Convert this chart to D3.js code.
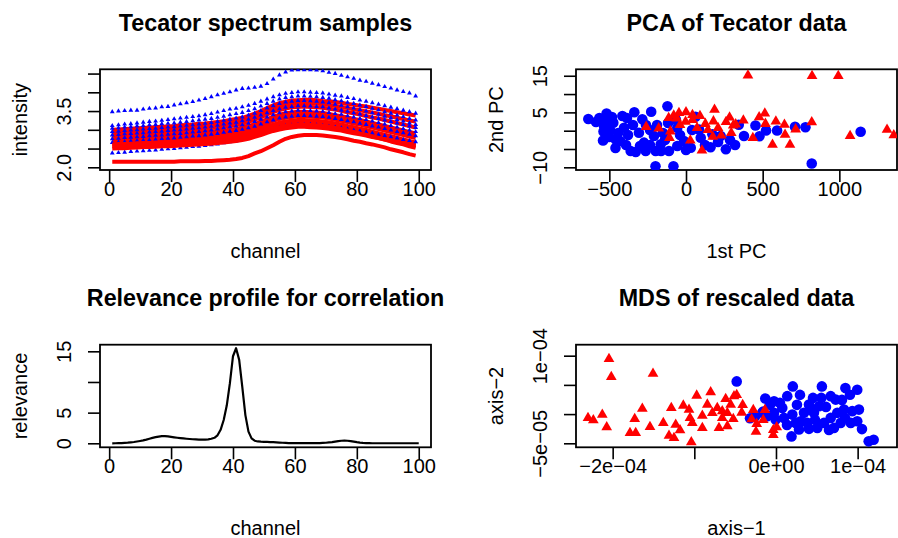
<!DOCTYPE html>
<html><head><meta charset="utf-8">
<script src="https://cdnjs.cloudflare.com/ajax/libs/d3/7.8.5/d3.min.js"></script>
<style>
body{margin:0;background:#fff}
svg{display:block}
text{font-family:"Liberation Sans",Arial,Helvetica,sans-serif;fill:#000}
</style>
</head><body>
<svg id="c" width="898" height="538"></svg>
<script>
// ---------------- DATA ----------------
// Panel 1: spectra sampled at odd channels
const spectrumChannels = d3.range(1, 100, 2);
const spectraRed = [
 [3.00,3.01,3.02,3.03,3.04,3.05,3.06,3.07,3.08,3.09,3.10,3.12,3.13,3.14,3.16,3.17,3.19,3.21,3.23,3.26,3.29,3.32,3.37,3.43,3.50,3.58,3.65,3.71,3.75,3.78,3.79,3.80,3.80,3.79,3.77,3.76,3.74,3.72,3.69,3.67,3.64,3.62,3.59,3.56,3.53,3.50,3.47,3.44,3.41,3.38],
 [2.95,2.96,2.97,2.98,2.99,3.00,3.01,3.01,3.02,3.03,3.04,3.05,3.07,3.08,3.09,3.10,3.12,3.14,3.16,3.18,3.21,3.24,3.29,3.35,3.42,3.49,3.56,3.62,3.66,3.69,3.70,3.71,3.71,3.70,3.68,3.66,3.64,3.61,3.58,3.55,3.52,3.49,3.46,3.43,3.39,3.36,3.32,3.29,3.25,3.22],
 [2.90,2.91,2.92,2.92,2.93,2.94,2.95,2.96,2.96,2.97,2.98,2.99,3.00,3.01,3.02,3.03,3.05,3.06,3.08,3.10,3.13,3.16,3.21,3.27,3.33,3.41,3.47,3.53,3.57,3.60,3.61,3.62,3.61,3.60,3.59,3.56,3.54,3.51,3.47,3.44,3.41,3.37,3.33,3.30,3.26,3.22,3.18,3.14,3.10,3.06],
 [2.82,2.83,2.83,2.84,2.85,2.86,2.86,2.87,2.88,2.88,2.89,2.90,2.91,2.92,2.93,2.94,2.95,2.97,2.98,3.00,3.02,3.06,3.10,3.15,3.22,3.28,3.35,3.40,3.44,3.46,3.48,3.48,3.47,3.46,3.45,3.42,3.39,3.36,3.33,3.29,3.26,3.22,3.18,3.14,3.10,3.06,3.02,2.98,2.94,2.90],
 [2.78,2.79,2.79,2.80,2.81,2.82,2.82,2.83,2.84,2.84,2.85,2.86,2.87,2.88,2.89,2.90,2.91,2.93,2.94,2.96,2.98,3.02,3.06,3.11,3.17,3.23,3.29,3.34,3.38,3.40,3.42,3.42,3.41,3.40,3.39,3.36,3.33,3.30,3.27,3.23,3.20,3.16,3.12,3.08,3.04,3.00,2.96,2.92,2.88,2.84],
 [2.74,2.75,2.75,2.76,2.77,2.78,2.78,2.79,2.80,2.80,2.81,2.82,2.83,2.84,2.85,2.86,2.87,2.89,2.90,2.92,2.94,2.97,3.01,3.06,3.12,3.18,3.24,3.29,3.32,3.34,3.36,3.36,3.35,3.34,3.33,3.30,3.27,3.24,3.21,3.17,3.14,3.10,3.06,3.02,2.98,2.94,2.90,2.86,2.82,2.78],
 [2.66,2.67,2.67,2.68,2.69,2.70,2.70,2.71,2.72,2.72,2.73,2.74,2.75,2.76,2.77,2.78,2.79,2.81,2.82,2.84,2.86,2.89,2.93,2.97,3.03,3.09,3.14,3.19,3.22,3.24,3.26,3.26,3.25,3.24,3.22,3.20,3.17,3.14,3.10,3.07,3.03,3.00,2.95,2.91,2.87,2.83,2.79,2.74,2.70,2.66],
 [2.61,2.62,2.62,2.63,2.64,2.65,2.65,2.66,2.67,2.67,2.68,2.69,2.70,2.71,2.72,2.73,2.74,2.76,2.77,2.79,2.81,2.84,2.88,2.92,2.97,3.03,3.09,3.13,3.16,3.18,3.20,3.20,3.19,3.18,3.16,3.14,3.11,3.08,3.04,3.00,2.97,2.93,2.89,2.85,2.80,2.76,2.72,2.68,2.63,2.59],
 [2.56,2.57,2.57,2.58,2.59,2.60,2.60,2.61,2.62,2.62,2.63,2.64,2.65,2.66,2.67,2.68,2.69,2.71,2.72,2.74,2.76,2.79,2.82,2.87,2.92,2.98,3.03,3.07,3.10,3.12,3.14,3.14,3.13,3.12,3.10,3.08,3.05,3.02,2.98,2.94,2.90,2.87,2.82,2.78,2.74,2.69,2.65,2.61,2.56,2.52],
 [2.50,2.51,2.51,2.52,2.53,2.54,2.54,2.55,2.56,2.56,2.57,2.58,2.59,2.60,2.61,2.62,2.63,2.65,2.66,2.68,2.70,2.73,2.76,2.81,2.86,2.92,2.97,3.01,3.04,3.06,3.08,3.08,3.07,3.06,3.05,3.03,3.00,2.98,2.94,2.91,2.88,2.85,2.81,2.78,2.74,2.71,2.67,2.63,2.60,2.56],
 [2.15,2.15,2.15,2.15,2.15,2.15,2.15,2.15,2.15,2.15,2.15,2.16,2.16,2.16,2.16,2.17,2.17,2.18,2.19,2.20,2.22,2.25,2.30,2.37,2.43,2.51,2.59,2.68,2.76,2.81,2.84,2.86,2.86,2.86,2.85,2.83,2.81,2.78,2.75,2.71,2.68,2.64,2.61,2.57,2.53,2.48,2.44,2.40,2.35,2.31]
];
const spectraBlue = [
 [3.48,3.50,3.51,3.52,3.52,3.55,3.57,3.58,3.61,3.62,3.66,3.69,3.72,3.75,3.79,3.83,3.88,3.93,3.97,4.01,4.06,4.10,4.11,4.13,4.16,4.23,4.35,4.46,4.54,4.59,4.60,4.60,4.60,4.59,4.57,4.53,4.50,4.45,4.41,4.37,4.32,4.29,4.24,4.20,4.15,4.11,4.06,4.02,3.98,3.90],
 [3.11,3.13,3.15,3.16,3.18,3.20,3.22,3.23,3.25,3.27,3.29,3.31,3.33,3.35,3.37,3.40,3.43,3.47,3.51,3.55,3.57,3.61,3.65,3.70,3.76,3.82,3.88,3.93,3.97,3.99,4.01,4.01,4.00,3.99,3.98,3.95,3.92,3.90,3.86,3.83,3.79,3.76,3.72,3.68,3.64,3.60,3.56,3.52,3.48,3.44],
 [3.04,3.05,3.07,3.08,3.10,3.11,3.13,3.14,3.16,3.17,3.18,3.20,3.22,3.24,3.26,3.28,3.30,3.33,3.36,3.40,3.43,3.46,3.51,3.56,3.63,3.70,3.76,3.82,3.86,3.88,3.90,3.90,3.89,3.88,3.86,3.84,3.80,3.77,3.73,3.70,3.66,3.62,3.57,3.53,3.48,3.44,3.39,3.35,3.30,3.26],
 [2.95,2.96,2.98,2.99,3.00,3.02,3.03,3.04,3.06,3.07,3.08,3.10,3.12,3.13,3.15,3.17,3.19,3.22,3.25,3.28,3.31,3.34,3.39,3.44,3.51,3.58,3.64,3.70,3.74,3.76,3.78,3.78,3.77,3.76,3.74,3.72,3.68,3.65,3.61,3.58,3.54,3.50,3.45,3.41,3.36,3.32,3.27,3.23,3.18,3.14],
 [2.86,2.87,2.89,2.90,2.91,2.92,2.94,2.95,2.96,2.98,2.99,3.00,3.02,3.04,3.05,3.07,3.09,3.12,3.15,3.18,3.20,3.24,3.28,3.33,3.39,3.45,3.51,3.56,3.60,3.62,3.64,3.64,3.63,3.62,3.61,3.58,3.55,3.52,3.49,3.45,3.42,3.38,3.34,3.30,3.26,3.22,3.18,3.14,3.10,3.06],
 [2.76,2.77,2.79,2.80,2.81,2.82,2.84,2.85,2.86,2.88,2.89,2.90,2.92,2.94,2.95,2.97,2.99,3.02,3.05,3.08,3.10,3.13,3.17,3.22,3.28,3.34,3.40,3.45,3.48,3.50,3.52,3.52,3.51,3.50,3.49,3.46,3.43,3.41,3.37,3.34,3.30,3.27,3.23,3.19,3.15,3.11,3.07,3.03,2.99,2.95],
 [2.66,2.67,2.68,2.70,2.71,2.72,2.73,2.74,2.76,2.77,2.78,2.80,2.81,2.83,2.84,2.86,2.88,2.90,2.93,2.96,2.98,3.01,3.05,3.09,3.15,3.21,3.26,3.31,3.34,3.36,3.38,3.38,3.37,3.36,3.35,3.33,3.30,3.27,3.24,3.21,3.17,3.14,3.10,3.07,3.03,2.99,2.95,2.92,2.88,2.84],
 [2.38,2.39,2.40,2.42,2.43,2.44,2.45,2.46,2.48,2.49,2.50,2.52,2.53,2.55,2.56,2.58,2.60,2.62,2.65,2.68,2.70,2.74,2.78,2.83,2.89,2.95,3.01,3.06,3.10,3.12,3.14,3.14,3.14,3.13,3.11,3.09,3.07,3.05,3.02,2.99,2.97,2.94,2.91,2.87,2.84,2.81,2.78,2.74,2.71,2.68]
];
const spectrumXTicks = [0,20,40,60,80,100];
const spectrumXLabels = ["0","20","40","60","80","100"];
const spectrumYTicks = [2.0,2.5,3.0,3.5,4.0,4.5];
const spectrumYLabels = ["2.0","","","3.5","",""];

// Panel 2: PCA scores
const pcaBlueX = [-637,-565,-518,-535,-538,-541,-474,-458,-460,-415,-404,-337,-361,-328,-285,-227,-121,-307,-274,-263,-198,-209,-165,-111,-57,-57,-67,-13,31,62,85,96,160,260,172,226,-199,-82,344,378,453,479,522,594,711,779,820,1139,-496,-443,-378,-346,-261,-235,-189,-150,-137,-39,0,39,124,209,287,320,-391,-300,-235,-163,-587,-483,-385,-430,-117,-515,-502];
const pcaBlueY = [3.19,3.47,4.69,1.28,-0.22,-2.67,2.18,-2.40,-4.72,4.01,0.82,5.05,-5.54,-5.81,3.11,5.16,6.66,-0.55,-3.27,-5.54,-5.54,-1.45,-3.71,-5.54,-4.18,0.82,3.11,-2.81,-4.64,3.82,0.33,-1.91,-4.50,-5.08,-0.98,-1.45,-9.72,-9.72,1.64,-1.45,1.42,-1.53,0.05,0.05,1.06,0.96,-8.95,-0.30,0.19,-0.63,-1.17,1.56,1.56,0.19,1.56,-0.63,-2.54,-1.17,-5.27,0.19,-3.90,-3.08,-2.54,-3.90,-3.90,-4.18,-3.90,-5.54,2.37,3.74,3.47,-2.81,2.10,2.92,-1.72];
const pcaRedX = [404,822,993,-260,-178,-113,-102,-108,-80,-61,-3,0,42,42,28,104,126,179,186,175,230,284,295,308,374,436,477,514,518,564,586,642,646,678,820,1070,1311,1355,324,715,-39,72,143,261,-46,91,209];
const pcaRedY = [15.10,14.95,14.95,1.06,0.65,3.47,-0.16,-1.94,4.15,3.38,2.46,5.05,4.28,2.92,-2.67,-5.40,1.88,2.57,5.73,-1.64,-1.31,3.60,-0.63,1.42,2.78,-1.99,3.68,4.69,1.88,-3.82,2.54,1.64,-1.09,-3.82,2.32,-1.45,0.27,-1.23,1.75,0.38,1.56,0.74,0.19,2.37,4.83,4.01,0.74];
const pcaXTicks = [-500,0,500,1000];
const pcaXLabels = ["\u2212500","0","500","1000"];
const pcaYTicks = [-10,-5,0,5,10,15];
const pcaYLabels = ["\u221210","","","5","","15"];

// Panel 3: relevance profile (channels 1..100)
const relevanceChannels = d3.range(1, 101);
const relevance = [
 0.00,0.01,0.02,0.04,0.07,0.10,0.15,0.21,0.29,0.38,
 0.48,0.60,0.74,0.88,1.00,1.10,1.16,1.17,1.13,1.06,
 0.98,0.91,0.85,0.79,0.74,0.70,0.66,0.63,0.61,0.60,
 0.61,0.65,0.74,0.90,1.30,2.20,3.80,6.20,9.80,14.2,
 15.5,13.6,9.2,4.6,1.9,0.80,0.42,0.30,0.26,0.24,
 0.22,0.20,0.18,0.15,0.12,0.09,0.06,0.04,0.03,0.02,
 0.02,0.02,0.02,0.02,0.02,0.02,0.03,0.04,0.06,0.09,
 0.14,0.20,0.28,0.36,0.42,0.44,0.42,0.36,0.27,0.18,
 0.11,0.06,0.03,0.02,0.01,0.01,0.01,0.01,0.01,0.01,
 0.01,0.01,0.01,0.01,0.01,0.01,0.01,0.01,0.01,0.01];
const relYTicks = [0,5,10,15];
const relYLabels = ["0","5","","15"];

// Panel 4: MDS of rescaled data
const mdsRedX = [-20.45e-5,-20.17e-5,-15.06e-5,-23.02e-5,-22.37e-5,-21.27e-5,-20.73e-5,-17.30e-5,-16.37e-5,-17.88e-5,-17.18e-5,-15.43e-5,-13.80e-5,-12.82e-5,-12.28e-5,-13.10e-5,-12.49e-5,-11.75e-5,-11.35e-5,-10.65e-5,-10.53e-5,-10.25e-5,-10.37e-5,-9.71e-5,-9.02e-5,-9.02e-5,-8.41e-5,-8.00e-5,-7.80e-5,-7.19e-5,-6.58e-5,-6.16e-5,-5.96e-5,-5.55e-5,-5.14e-5,-6.98e-5,-5.96e-5,-6.58e-5,-5.23e-5,-4.81e-5,-4.08e-5,-4.20e-5,-2.78e-5,-2.98e-5,-2.36e-5,-2.45e-5,-1.35e-5,-1.56e-5,-0.33e-5,0.09e-5,-0.33e-5];
const mdsRedY = [9.43e-5,6.35e-5,6.92e-5,-0.65e-5,-1.04e-5,-0.09e-5,-2.24e-5,-0.82e-5,0.94e-5,-3.22e-5,-3.22e-5,-2.19e-5,-1.51e-5,1.06e-5,-1.80e-5,-3.68e-5,-4.08e-5,-2.76e-5,1.46e-5,0.77e-5,-0.65e-5,-1.51e-5,-4.81e-5,3.17e-5,-0.26e-5,-2.36e-5,1.63e-5,3.75e-5,0.21e-5,1.06e-5,0.50e-5,2.60e-5,0.21e-5,1.63e-5,3.07e-5,-2.36e-5,-2.07e-5,-0.65e-5,-0.82e-5,3.29e-5,1.58e-5,0.26e-5,0.72e-5,-0.87e-5,-1.68e-5,-3.00e-5,0.72e-5,-0.99e-5,-2.71e-5,-2.24e-5,-3.56e-5];
const mdsBlueX = [-4.81e-5,-1.31e-5,-0.24e-5,2.06e-5,1.38e-5,0.77e-5,-0.24e-5,-1.07e-5,-1.68e-5,-0.04e-5,0.98e-5,2.00e-5,2.41e-5,3.02e-5,3.43e-5,4.04e-5,4.65e-5,5.62e-5,5.55e-5,5.27e-5,6.70e-5,7.31e-5,8.50e-5,9.06e-5,9.95e-5,10.16e-5,9.34e-5,8.33e-5,7.51e-5,6.70e-5,5.88e-5,5.06e-5,4.04e-5,2.82e-5,1.90e-5,3.83e-5,7.10e-5,7.92e-5,9.15e-5,10.53e-5,9.95e-5,11.35e-5,11.96e-5,4.25e-5,-2.57e-5,-3.18e-5,-1.56e-5,0.49e-5,2.57e-5,6.12e-5,8.08e-5,4.78e-5,1.35e-5,8.45e-5,6.49e-5,-0.73e-5,2.94e-5,4.53e-5];
const mdsBlueY = [5.60e-5,2.65e-5,2.21e-5,4.74e-5,3.07e-5,1.06e-5,0.21e-5,-0.36e-5,0.21e-5,-0.94e-5,-0.65e-5,-0.09e-5,-1.51e-5,-1.22e-5,0.21e-5,1.63e-5,0.21e-5,4.74e-5,2.77e-5,1.35e-5,3.07e-5,2.48e-5,4.45e-5,3.32e-5,4.18e-5,0.77e-5,0.50e-5,0.77e-5,0.21e-5,-0.65e-5,-1.51e-5,-2.36e-5,-2.53e-5,-2.65e-5,-3.82e-5,-1.51e-5,-2.36e-5,-1.51e-5,-1.51e-5,-2.57e-5,-1.22e-5,-4.67e-5,-4.38e-5,0.77e-5,-0.43e-5,-0.70e-5,0.43e-5,1.92e-5,1.58e-5,1.23e-5,2.43e-5,-0.99e-5,-1.85e-5,-0.65e-5,-2.71e-5,1.58e-5,3.29e-5,2.77e-5];
const mdsXTicks = [-2e-4,-1e-4,0,1e-4];
const mdsXLabels = ["\u22122e\u221204","","0e+00","1e\u221204"];
const mdsYTicks = [-5e-5,0,5e-5,1e-4];
const mdsYLabels = ["\u22125e\u221205","","","1e\u221204"];

// ---------------- LAYOUT ----------------
const RED = "#ff0000", BLUE = "#0000ff";
const TICK = 12, LAB = 20, TITLE = 23.3;
const FAM = '"Liberation Sans",Arial,Helvetica,sans-serif';
const svg = d3.select("#c");
const P = {
  spec: {x0:100, x1:431, y0:69.3, y1:170},
  pca:  {x0:576, x1:897, y0:69.3, y1:170},
  rel:  {x0:100, x1:431, y0:344.7, y1:447.3},
  mds:  {x0:576, x1:897, y0:344.7, y1:447.3}
};

function frame(key, p, x, y, xt, xl, yt, yl, title, xtitle, ytitle) {
  const gx = svg.append("g").attr("transform", `translate(0,${p.y1})`)
    .call(d3.axisBottom(x).tickValues(xt).tickSize(TICK).tickFormat((d,i)=>xl[i]));
  gx.select(".domain").remove();
  gx.selectAll(".tick line").attr("stroke","#000").attr("stroke-width",1.6);
  gx.selectAll(".tick text").attr("y", 19).attr("dy","0.35em")
    .attr("font-size", LAB).attr("font-family",FAM).attr("fill","#000");
  const gy = svg.append("g").attr("transform", `translate(${p.x0},0)`)
    .call(d3.axisLeft(y).tickValues(yt).tickSize(TICK).tickFormat((d,i)=>yl[i]));
  gy.select(".domain").remove();
  gy.selectAll(".tick line").attr("stroke","#000").attr("stroke-width",1.6);
  gy.selectAll(".tick text").attr("x", null).attr("dy","0.35em").attr("text-anchor","middle")
    .attr("transform","translate(-36,0) rotate(-90)")
    .attr("font-size", LAB).attr("font-family",FAM).attr("fill","#000");
  svg.append("rect").attr("x",p.x0).attr("y",p.y0).attr("width",p.x1-p.x0).attr("height",p.y1-p.y0)
    .attr("fill","none").attr("stroke","#000").attr("stroke-width",1.8);
  const cx = (p.x0+p.x1)/2, cy = (p.y0+p.y1)/2;
  svg.append("text").attr("x",cx).attr("y",p.y0-38.5).attr("text-anchor","middle")
    .attr("font-size",TITLE).attr("font-weight","bold").text(title);
  svg.append("text").attr("x",cx).attr("y",p.y1+88).attr("text-anchor","middle")
    .attr("font-size",LAB).text(xtitle);
  svg.append("text").attr("transform",`translate(${p.x0-80},${cy}) rotate(-90)`).attr("dy","0.35em")
    .attr("text-anchor","middle").attr("font-size",LAB).text(ytitle);
  svg.append("clipPath").attr("id","clip-"+key).append("rect")
    .attr("x",p.x0).attr("y",p.y0).attr("width",p.x1-p.x0).attr("height",p.y1-p.y0);
  return svg.append("g").attr("clip-path",`url(#clip-${key})`);
}

// Panel 1
{
  const p = P.spec;
  const x = d3.scaleLinear().domain([-2.96, 103.96]).range([p.x0, p.x1]);
  const y = d3.scaleLinear().domain([1.928, 4.614]).range([p.y1, p.y0]);
  const g = frame("spec", p, x, y, spectrumXTicks, spectrumXLabels, spectrumYTicks, spectrumYLabels,
    "Tecator spectrum samples", "channel", "intensity");
  const line = d3.line().x((d,i)=>x(spectrumChannels[i])).y(d=>y(d));
  const tri = d3.symbol().type(d3.symbolTriangle).size(10);
  const n = Math.max(spectraRed.length, spectraBlue.length);
  for (let k = 0; k < n; k++) {
    if (spectraRed[k]) g.append("path").attr("d", line(spectraRed[k])).attr("fill","none")
      .attr("stroke",RED).attr("stroke-width",4).attr("stroke-linejoin","round");
    if (spectraBlue[k]) g.selectAll(null).data(spectraBlue[k]).enter().append("path")
      .attr("d", tri).attr("fill", BLUE)
      .attr("transform",(d,i)=>`translate(${x(spectrumChannels[i])},${y(d)})`);
  }
}
// Panel 2
{
  const p = P.pca;
  const x = d3.scaleLinear().domain([-717.4, 1376]).range([p.x0, p.x1]);
  const y = d3.scaleLinear().domain([-10.73, 16.76]).range([p.y1, p.y0]);
  const g = frame("pca", p, x, y, pcaXTicks, pcaXLabels, pcaYTicks, pcaYLabels,
    "PCA of Tecator data", "1st PC", "2nd PC");
  g.selectAll(null).data(pcaBlueX).enter().append("circle")
    .attr("cx",d=>x(d)).attr("cy",(d,i)=>y(pcaBlueY[i])).attr("r",5.3).attr("fill",BLUE);
  const tri = d3.symbol().type(d3.symbolTriangle).size(50);
  g.selectAll(null).data(pcaRedX).enter().append("path").attr("d",tri).attr("fill",RED)
    .attr("transform",(d,i)=>`translate(${x(d)},${y(pcaRedY[i])})`);
}
// Panel 3
{
  const p = P.rel;
  const x = d3.scaleLinear().domain([-2.96, 103.96]).range([p.x0, p.x1]);
  const y = d3.scaleLinear().domain([-0.652, 16.08]).range([p.y1, p.y0]);
  const g = frame("rel", p, x, y, spectrumXTicks, spectrumXLabels, relYTicks, relYLabels,
    "Relevance profile for correlation", "channel", "relevance");
  g.append("path").attr("d", d3.line().x((d,i)=>x(relevanceChannels[i])).y(d=>y(d))(relevance))
    .attr("fill","none").attr("stroke","#000").attr("stroke-width",2.2).attr("stroke-linejoin","round");
}
// Panel 4
{
  const p = P.mds;
  const x = d3.scaleLinear().domain([-24.49e-5, 14.82e-5]).range([p.x0, p.x1]);
  const y = d3.scaleLinear().domain([-5.685e-5, 11.88e-5]).range([p.y1, p.y0]);
  const g = frame("mds", p, x, y, mdsXTicks, mdsXLabels, mdsYTicks, mdsYLabels,
    "MDS of rescaled data", "axis\u22121", "axis\u22122");
  g.selectAll(null).data(mdsBlueX).enter().append("circle")
    .attr("cx",d=>x(d)).attr("cy",(d,i)=>y(mdsBlueY[i])).attr("r",5.3).attr("fill",BLUE);
  const tri = d3.symbol().type(d3.symbolTriangle).size(50);
  g.selectAll(null).data(mdsRedX).enter().append("path").attr("d",tri).attr("fill",RED)
    .attr("transform",(d,i)=>`translate(${x(d)},${y(mdsRedY[i])})`);
}
</script>
</body></html>
